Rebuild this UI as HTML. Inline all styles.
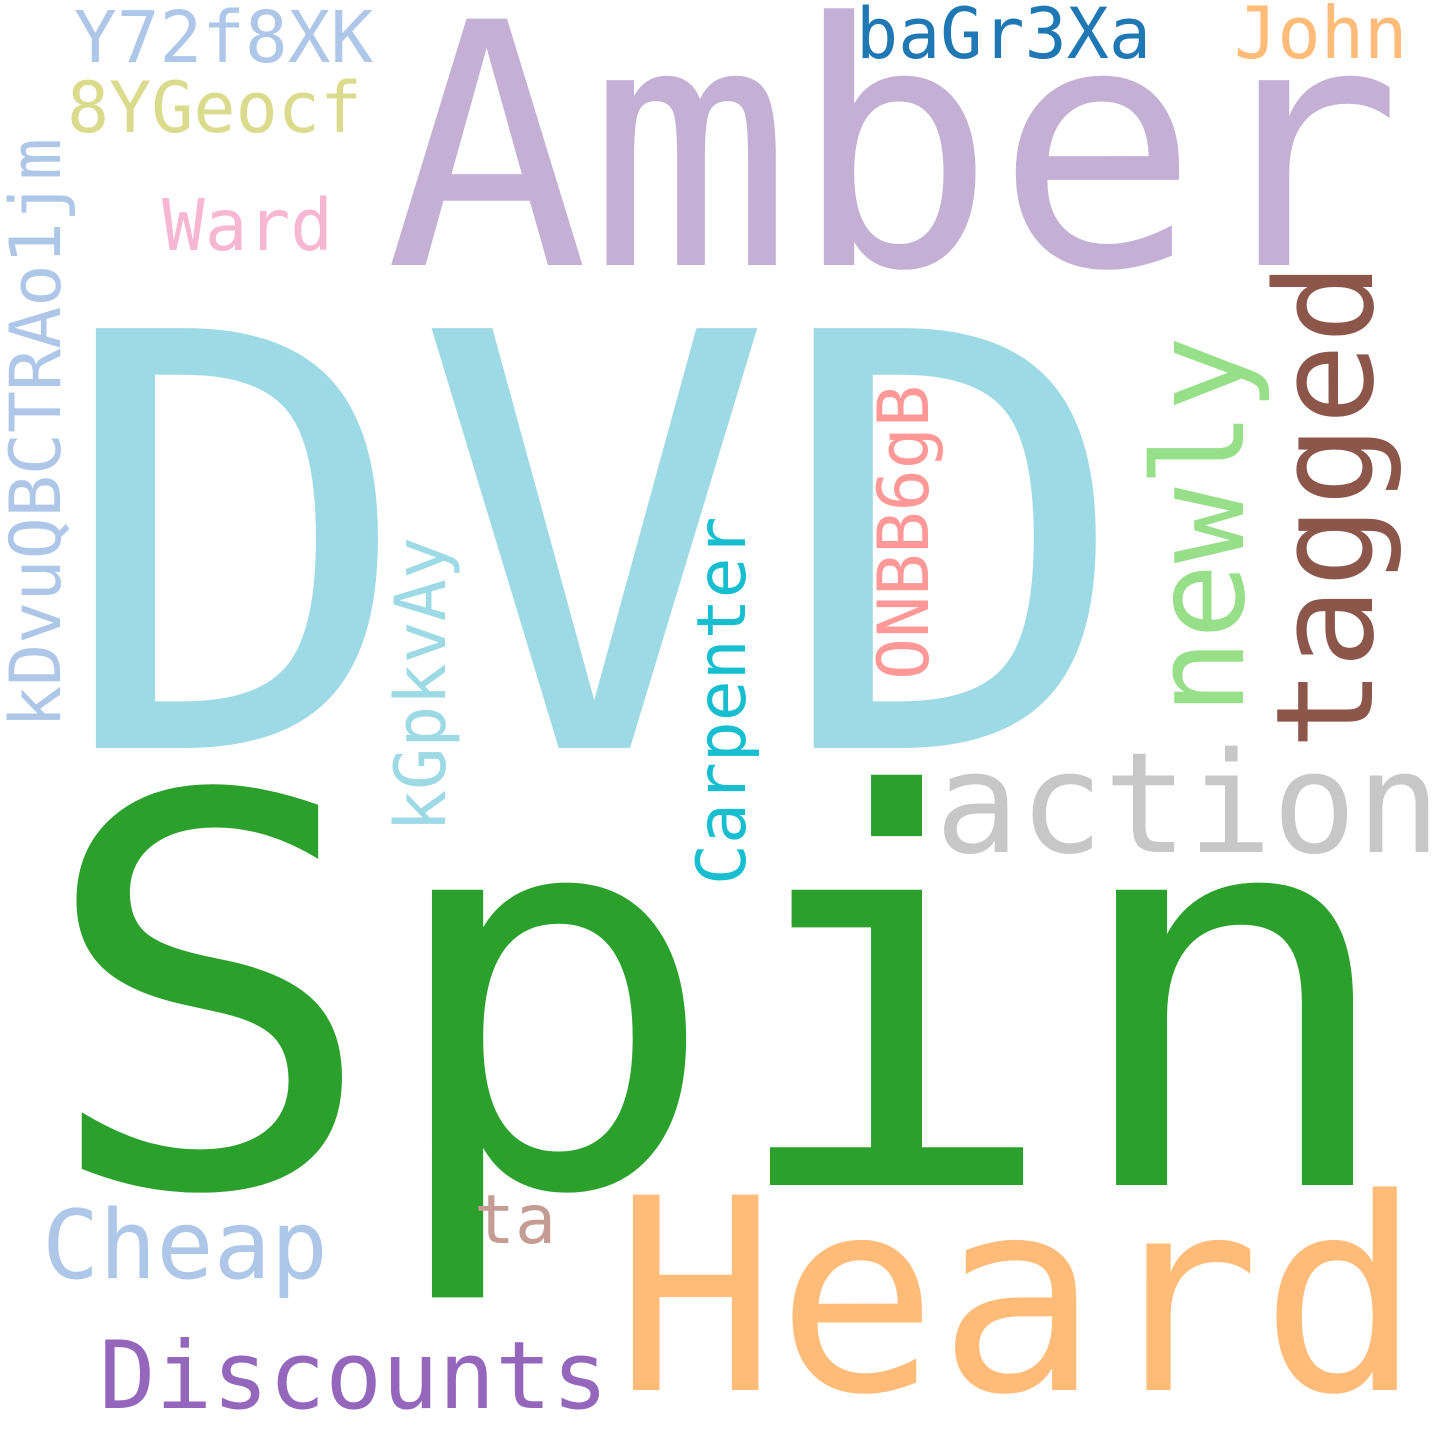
<!DOCTYPE html>
<html><head><meta charset="utf-8"><style>
html,body{margin:0;padding:0;background:#fff;}
svg{display:block;}
text{font-family:"DejaVu Sans Mono","Liberation Mono",monospace;}
</style></head><body>
<svg width="1440" height="1440" viewBox="0 0 1440 1440">
<rect width="1440" height="1440" fill="#fff"/>
<text x="385" y="265" font-size="338" fill="#c5b0d5">Amber</text>
<text transform="translate(56,748) scale(1.035,1)" font-size="576" fill="#9edae5">DVD</text>
<text transform="translate(38,1185) scale(1.05,1)" font-size="540" fill="#2ca02c">Spin</text>
<text x="615" y="1390" font-size="268" fill="#ffbb78">Heard</text>
<text x="935" y="852" font-size="140" fill="#c7c7c7">action</text>
<text transform="translate(1372,750) rotate(-90)" font-size="135" fill="#8c564b">tagged</text>
<text transform="translate(1243,715) rotate(-90)" font-size="126" fill="#98df8a">newly</text>
<text transform="translate(745,885) rotate(-90)" font-size="68" fill="#17becf">Carpenter</text>
<text transform="translate(445,832) rotate(-90)" font-size="70" fill="#9edae5">kGpkvAy</text>
<text transform="translate(928,680) rotate(-90)" font-size="70" fill="#ff9896">ONBB6gB</text>
<text transform="translate(60,728) rotate(-90)" font-size="70" fill="#aec7e8">kDvuQBCTRAo1jm</text>
<text x="74" y="62" font-size="71" fill="#aec7e8">Y72f8XK</text>
<text x="67" y="132" font-size="70" fill="#dbdb8d">8YGeocf</text>
<text x="162" y="250" font-size="71" fill="#f7b6d2">Ward</text>
<text x="856" y="58" font-size="70" fill="#1f77b4">baGr3Xa</text>
<text x="1234" y="58" font-size="72" fill="#ffbb78">John</text>
<text x="42" y="1278" font-size="95" fill="#aec7e8">Cheap</text>
<text x="474" y="1243" font-size="68" fill="#c49c94">ta</text>
<text x="99" y="1408" font-size="94" fill="#9467bd">Discounts</text>
</svg>
</body></html>
